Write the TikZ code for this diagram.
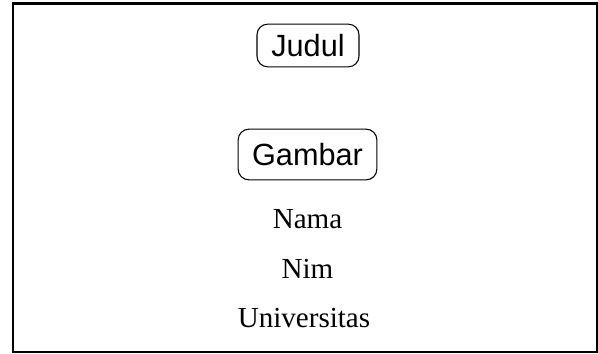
\documentclass[tikz,border=0pt]{standalone}
\usepackage{fontspec}
\setmainfont{Liberation Serif}
\newfontfamily\boxfont{Liberation Sans}
\begin{document}
\begin{tikzpicture}[x=0.75pt,y=-0.75pt,
  framebox/.style={draw, line width=1.6pt},
  titlebox/.style={draw, line width=0.8pt, rounded corners=8pt, inner sep=0pt,
    font=\boxfont\fontsize{23pt}{26pt}\selectfont},
  infotext/.style={anchor=base, inner sep=0pt, font=\fontsize{21.8pt}{24pt}\selectfont}]
  \useasboundingbox (0,0) rectangle (598,353);
  % outer frame
  \draw[framebox] (13,3.5) rectangle (596.8,351.8);
  % title and picture placeholders
  \node[titlebox, minimum width=76.5pt, minimum height=32pt] (judul) at (308,45.5) {Judul};
  \node[titlebox, minimum width=104pt, minimum height=38pt] (gambar) at (307.5,154.5) {Gambar};
  % identity lines
  \node[infotext] (nama) at (307.5,228) {Nama};
  \node[infotext] (nim) at (307.5,278.5) {Nim};
  \node[infotext] (univ) at (304,327.5) {Universitas};
\end{tikzpicture}
\end{document}
